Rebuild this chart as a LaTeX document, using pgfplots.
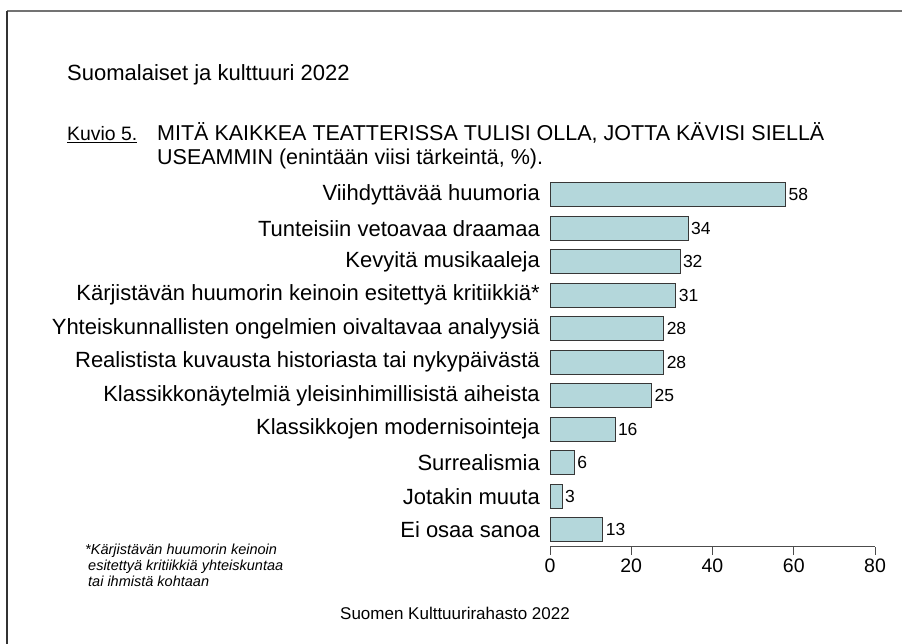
\documentclass[border=0pt]{standalone}
\usepackage{fontspec}
\setmainfont{Liberation Sans}
\usepackage{pgfplots}
\pgfplotsset{compat=1.18}
\definecolor{barblue}{RGB}{180,215,219}
\definecolor{edgegray}{RGB}{55,55,55}
\begin{document}
\begin{tikzpicture}[x=1pt,y=1pt]
\useasboundingbox (0,0) rectangle (902,644);
\draw[line width=1.5pt, color=black!55] (7,633) -- (902,633);
\draw[line width=1.5pt, color=black!80] (7,633) -- (7,0);
\node[anchor=base west, inner sep=0pt, font=\fontsize{22}{24}\selectfont] at (67,563.5) {Suomalaiset ja kulttuuri 2022};
\node[anchor=base west, inner sep=0pt, font=\fontsize{19.4}{22}\selectfont] at (67,503) {\underline{Kuvio 5.}};
\node[anchor=base west, inner sep=0pt, font=\fontsize{21.5}{24}\selectfont] at (157,503) {MITÄ KAIKKEA TEATTERISSA TULISI OLLA, JOTTA KÄVISI SIELLÄ};
\node[anchor=base west, inner sep=0pt, font=\fontsize{21.5}{24}\selectfont] at (157,479) {USEAMMIN (enintään viisi tärkeintä, \%).};
\node[anchor=base west, inner sep=0pt, font=\itshape\fontsize{14.5}{16.5}\selectfont, align=left] at (85,89) {*Kärjistävän huumorin keinoin};
\node[anchor=base west, inner sep=0pt, font=\itshape\fontsize{14.5}{16.5}\selectfont, align=left] at (88,73) {esitettyä kritiikkiä yhteiskuntaa};
\node[anchor=base west, inner sep=0pt, font=\itshape\fontsize{14.5}{16.5}\selectfont, align=left] at (88,57) {tai ihmistä kohtaan};
\node[anchor=base west, inner sep=0pt, font=\fontsize{17}{20}\selectfont] at (340,24) {Suomen Kulttuurirahasto 2022};
\begin{axis}[
  at={(550pt,97.3pt)}, anchor=south west,
  scale only axis, width=325pt, height=368.7pt,
  xbar, bar width=24pt,
  xmin=0, xmax=80, ymin=-0.507, ymax=10.5,
  axis lines*=left,
  y axis line style={draw=none},
  ytick={0,...,10},
  yticklabels={Ei osaa sanoa, Jotakin muuta, Surrealismia, Klassikkojen modernisointeja, Klassikkonäytelmiä yleisinhimillisistä aiheista, Realistista kuvausta historiasta tai nykypäivästä, Yhteiskunnallisten ongelmien oivaltavaa analyysiä, Kärjistävän huumorin keinoin esitettyä kritiikkiä*, Kevyitä musikaaleja, Tunteisiin vetoavaa draamaa, Viihdyttävää huumoria},
  ytick style={draw=none},
  xtick={0,20,40,60,80},
  tick align=outside,
  xtick style={draw=black!70, line width=1pt},
  major tick length=8pt,
  x axis line style={draw=black!70, line width=1pt},
  /pgf/number format/assume math mode=true,
  xticklabel style={font=\fontsize{19.5}{22}\selectfont, inner sep=0pt, yshift=-4pt},
  yticklabel style={font=\fontsize{22}{26}\selectfont, inner sep=0pt, xshift=-2pt},
  nodes near coords,
  nodes near coords style={font=\fontsize{17.5}{20}\selectfont, anchor=west, inner sep=2.5pt, text=black},
  clip=false,
]
\addplot[fill=barblue, draw=edgegray, line width=1pt] coordinates {(13,0) (3,1) (6,2) (16,3) (25,4) (28,5) (28,6) (31,7) (32,8) (34,9) (58,10)};
\end{axis}
\end{tikzpicture}
\end{document}
